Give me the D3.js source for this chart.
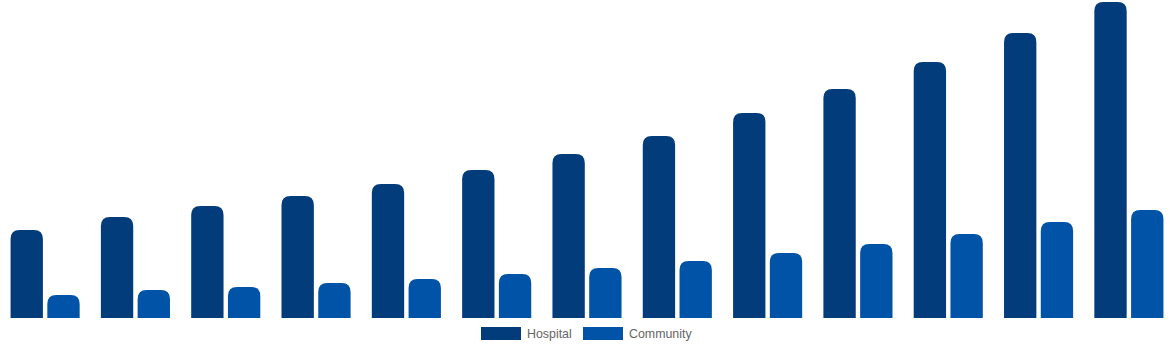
<!DOCTYPE html>
<html>
<head>
<meta charset="utf-8">
<script src="https://cdn.jsdelivr.net/npm/d3@7"></script>
<style>
  body { margin: 0; background: #fff; }
  .legend text { font-family: "Liberation Sans", Arial, sans-serif; font-size: 12.4px; fill: #666; }
</style>
</head>
<body>
<div class="chart"></div>
<script>
var periods = ['1','2','3','4','5','6','7','8','9','10','11','12','13'];
var hospital = [88, 101, 112, 122, 134, 148, 164, 182, 205, 229, 256, 285, 316];
var community = [23, 28, 31, 35, 39, 44, 50, 57, 65, 74, 84, 96, 108];
var seriesNames = ['Hospital', 'Community'];
var seriesColors = ['#033c7a', '#0053a6'];

var width = 1174, height = 350;
var base = 318;

var svg = d3.select('.chart').append('svg')
  .attr('width', width)
  .attr('height', height);

var x0 = d3.scaleBand().domain(periods).range([0, width]).paddingInner(0.235).paddingOuter(0.117);
var x1 = d3.scaleBand().domain(seriesNames).range([0, x0.bandwidth()]).paddingInner(0.12);
var y = d3.scaleLinear().domain([0, 316]).range([base, 2]);

// bar with only the top corners rounded
function topRounded(x, yTop, w, h, r) {
  r = Math.min(r, w / 2, h);
  return 'M' + x + ',' + (yTop + h) +
    'V' + (yTop + r) +
    'Q' + x + ',' + yTop + ' ' + (x + r) + ',' + yTop +
    'H' + (x + w - r) +
    'Q' + (x + w) + ',' + yTop + ' ' + (x + w) + ',' + (yTop + r) +
    'V' + (yTop + h) + 'Z';
}

var rows = periods.map(function(p, i) {
  return { period: p, values: [hospital[i], community[i]] };
});

var groups = svg.selectAll('g.group')
  .data(rows)
  .enter().append('g')
    .attr('class', 'group')
    .attr('transform', function(d){ return 'translate(' + x0(d.period) + ',0)'; });

groups.selectAll('path')
  .data(function(d){ return d.values.map(function(v, j){ return { name: seriesNames[j], value: v, color: seriesColors[j] }; }); })
  .enter().append('path')
    .attr('d', function(d){ return topRounded(x1(d.name), y(d.value), x1.bandwidth(), base - y(d.value), 9); })
    .attr('fill', function(d){ return d.color; })
    .append('title').text(function(d){ return d.name + ': ' + d.value; });

// legend
var legend = svg.append('g').attr('class', 'legend');
var legendX = [481, 583];
seriesNames.forEach(function(name, i) {
  legend.append('rect')
    .attr('x', legendX[i]).attr('y', 327)
    .attr('width', 40).attr('height', 13)
    .attr('fill', seriesColors[i]);
  legend.append('text')
    .attr('x', legendX[i] + 46).attr('y', 337.5)
    .text(name);
});
</script>
</body>
</html>
